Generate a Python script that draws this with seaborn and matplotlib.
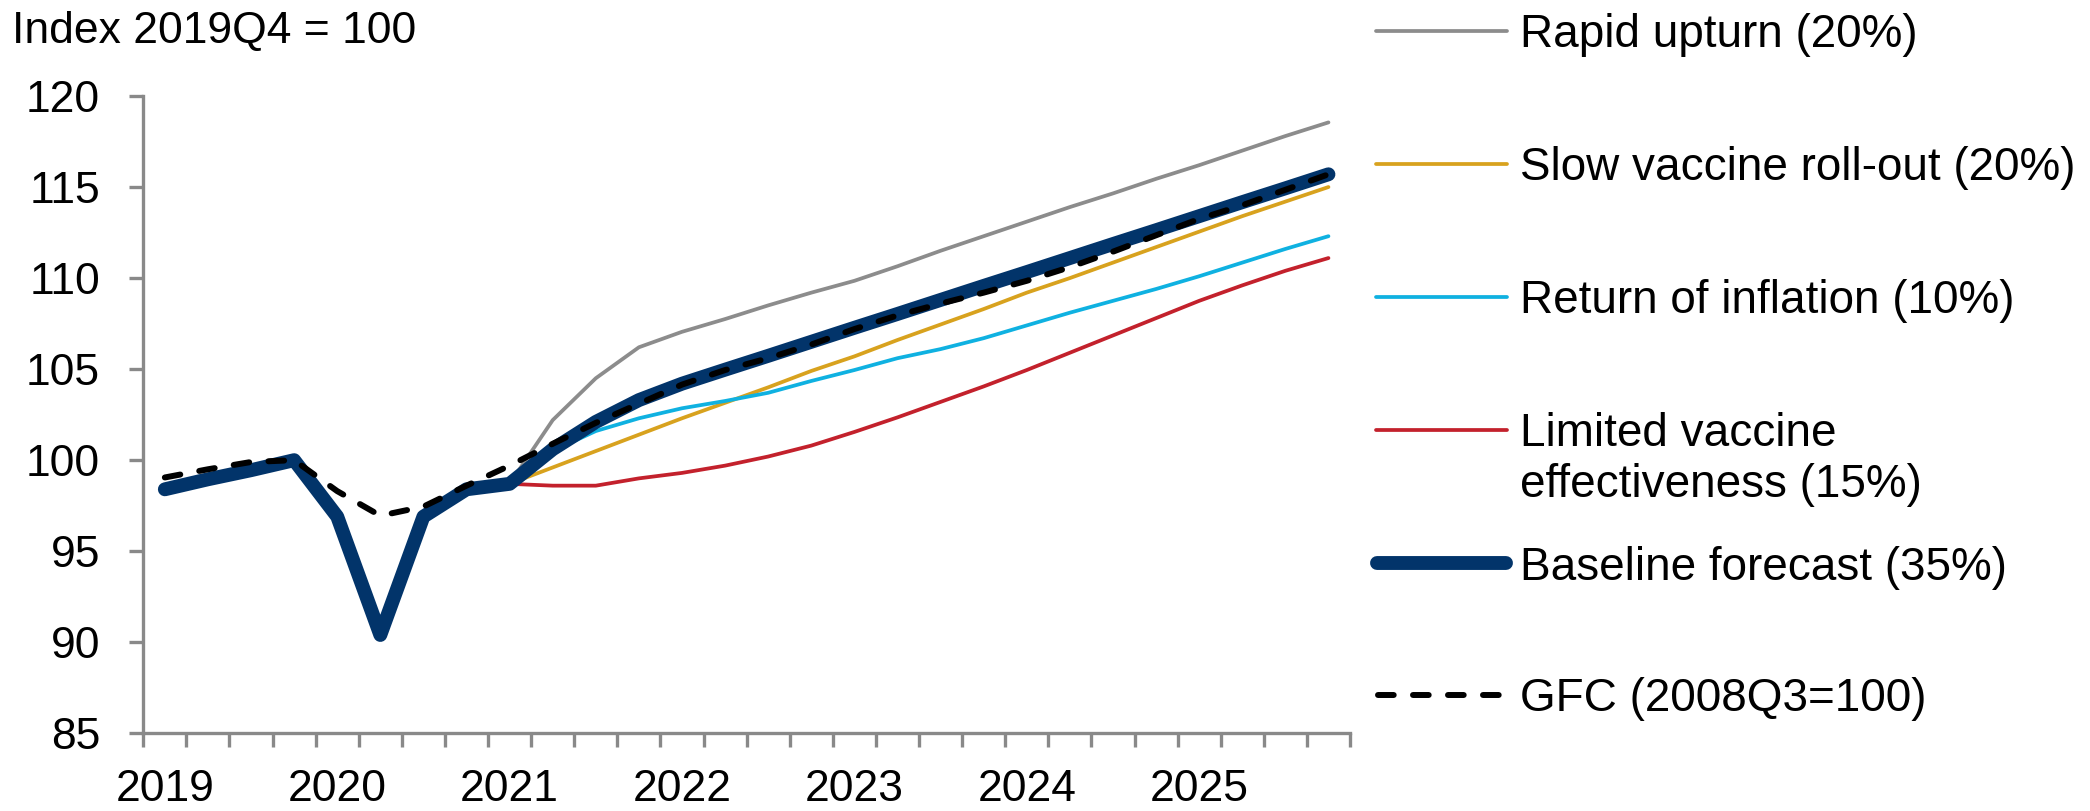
import numpy as np
import pandas as pd
import seaborn as sns
import matplotlib
matplotlib.use("Agg")
import matplotlib.pyplot as plt
from matplotlib.lines import Line2D

# ---- data -------------------------------------------------------------
quarters = [f"{y}Q{q}" for y in range(2019, 2026) for q in range(1, 5)]
year_labels = ["2019", "2020", "2021", "2022", "2023", "2024", "2025"]

# Baseline forecast, index 2019Q4 = 100 (2019Q1 .. 2025Q4)
baseline = [98.4, 98.95, 99.45, 100.0, 96.9, 90.4, 96.9, 98.4,
            98.7, 100.6, 102.1, 103.3, 104.2, 104.97, 105.73, 106.5,
            107.27, 108.03, 108.8, 109.57, 110.33, 111.1, 111.87, 112.63,
            113.4, 114.17, 114.93, 115.7]

# Global financial crisis path, index 2008Q3 = 100, aligned on the same quarters
gfc = [99.05, 99.5, 99.9, 100.0, 98.3, 96.95, 97.45, 98.6,
       99.7, 100.9, 102.05, 103.1, 104.15, 104.95, 105.6, 106.35,
       107.2, 107.95, 108.6, 109.2, 109.85, 110.6, 111.45, 112.35,
       113.25, 114.0, 114.85, 115.7]

# Alternative scenarios, 2021Q1 .. 2025Q4
rapid_upturn = [98.7, 102.2, 104.5, 106.2, 107.05, 107.75, 108.5, 109.2,
                109.85, 110.65, 111.5, 112.3, 113.1, 113.9, 114.65, 115.45,
                116.2, 117.0, 117.8, 118.55]
slow_rollout = [98.7, 99.6, 100.5, 101.4, 102.3, 103.15, 104.0, 104.9,
                105.7, 106.6, 107.45, 108.3, 109.2, 110.0, 110.85, 111.7,
                112.55, 113.4, 114.2, 115.0]
inflation = [98.7, 100.5, 101.6, 102.3, 102.85, 103.25, 103.7, 104.35,
             104.95, 105.6, 106.1, 106.7, 107.4, 108.1, 108.75, 109.4,
             110.1, 110.85, 111.6, 112.3]
limited_vaccine = [98.7, 98.6, 98.6, 99.0, 99.3, 99.7, 100.2, 100.8,
                   101.55, 102.35, 103.2, 104.05, 104.95, 105.9, 106.85, 107.8,
                   108.75, 109.6, 110.4, 111.1]

scenario_labels = ["Rapid upturn (20%)", "Slow vaccine roll-out (20%)",
                   "Return of inflation (10%)",
                   "Limited vaccine\neffectiveness (15%)"]
baseline_label = "Baseline forecast (35%)"
gfc_label = "GFC (2008Q3=100)"
y_title = "Index 2019Q4 = 100"

# ---- style ------------------------------------------------------------
sns.set_theme(style="white")
plt.rcParams["font.family"] = ["Liberation Sans", "DejaVu Sans"]
plt.rcParams["text.color"] = "black"

W, H = 2090, 811
GRAY_AX = "#898989"
C_GRAY, C_GOLD, C_CYAN, C_RED = "#8c8c8c", "#d8a21e", "#0fb1e1", "#c3212c"
C_NAVY = "#02346a"
THIN = 2.7


def fig_xy(x, y):
    return x / W, 1 - y / H


fig = plt.figure(figsize=(W / 100, H / 100), dpi=100)
left, bottom, right, top = 143.3, 733.3, 1350.0, 96.0
ax = fig.add_axes([left / W, 1 - bottom / H, (right - left) / W, (bottom - top) / H])

x_all = np.arange(len(quarters))
x_scen = x_all[8:]

scen_series = [rapid_upturn, slow_rollout, inflation, limited_vaccine]
scen_colors = [C_GRAY, C_GOLD, C_CYAN, C_RED]
for vals, col in zip(scen_series, scen_colors):
    sns.lineplot(x=x_scen, y=vals, ax=ax, color=col, linewidth=THIN,
                 zorder=2, legend=False)

sns.lineplot(x=x_all, y=baseline, ax=ax, color=C_NAVY, linewidth=10,
             zorder=3, legend=False, solid_capstyle="round",
             solid_joinstyle="round")
sns.lineplot(x=x_all, y=gfc, ax=ax, color="black", linewidth=4.3,
             zorder=4, legend=False)
gfc_line = ax.get_lines()[-1]
gfc_line.set_dashes((2.63, 3.23))
gfc_line.set_dash_capstyle("round")

# ---- axes -------------------------------------------------------------
ax.set_xlim(-0.5, len(quarters) - 0.5)
ax.set_ylim(85, 120)
ax.set_yticks(np.arange(85, 121, 5))
ax.set_xticks(np.arange(0, len(quarters), 4))
ax.set_xticklabels(year_labels)
ax.set_xticks(np.arange(-0.5, len(quarters), 1), minor=True)
ax.set_xlabel("")
ax.set_ylabel("")

for s in ["top", "right"]:
    ax.spines[s].set_visible(False)
for s in ["left", "bottom"]:
    ax.spines[s].set_color(GRAY_AX)
    ax.spines[s].set_linewidth(2.4)

ax.tick_params(axis="y", which="major", left=True, length=10, width=2.4,
               color=GRAY_AX, pad=21, labelsize=32, labelcolor="black")
ax.tick_params(axis="x", which="major", bottom=True, length=0, pad=26,
               labelsize=32, labelcolor="black")
ax.tick_params(axis="x", which="minor", bottom=True, length=10, width=2.4,
               color=GRAY_AX)

fig.text(*fig_xy(12, 42.7), y_title, fontsize=32, ha="left", va="baseline")

# ---- legend -----------------------------------------------------------
LINE_GAP = 51  # pixel distance between the two lines of a wrapped label
entries = [
    (scenario_labels[0], 30.7, dict(color=C_GRAY, lw=THIN)),
    (scenario_labels[1], 164.0, dict(color=C_GOLD, lw=THIN)),
    (scenario_labels[2], 296.7, dict(color=C_CYAN, lw=THIN)),
    (scenario_labels[3], 429.7, dict(color=C_RED, lw=THIN)),
    (baseline_label, 563.3, dict(color=C_NAVY, lw=10, solid_capstyle="round")),
    (gfc_label, 695.0, dict(color="black", lw=4.3, dash_capstyle="round")),
]
for label, yc, style in entries:
    if label == gfc_label:
        x0, x1 = 1378, 1499
    elif label == baseline_label:
        x0, x1 = 1377, 1506
    else:
        x0, x1 = 1376, 1507
    (fx0, fy), (fx1, _) = fig_xy(x0, yc), fig_xy(x1, yc)
    ln = Line2D([fx0, fx1], [fy, fy], transform=fig.transFigure, **style)
    if label == gfc_label:
        ln.set_dashes((2.63, 3.23))
    fig.add_artist(ln)
    extra_lines = label.count("\n")
    fig.text(*fig_xy(1520, yc + 16.3 + extra_lines * LINE_GAP), label,
             fontsize=33, ha="left", va="baseline", linespacing=1.2)

fig.savefig("out.png", dpi=100, facecolor="white")
